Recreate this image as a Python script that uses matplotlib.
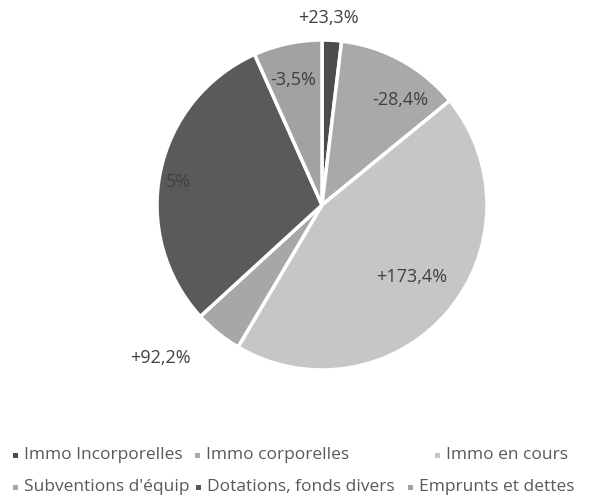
import matplotlib
matplotlib.use("Agg")
import matplotlib.pyplot as plt
from matplotlib.patches import Rectangle

categories = ["Immo Incorporelles", "Immo corporelles", "Immo en cours",
              "Subventions d'équip", "Dotations, fonds divers", "Emprunts et dettes"]
shares = [1.9, 12.2, 44.4, 4.7, 30.1, 6.7]
labels = ["+23,3%", "-28,4%", "+173,4%", "+92,2%", "5%", "-3,5%"]
legend_labels = ["Immo Incorporelles", "Immo corporelles", "Immo en cours",
                 "Subventions d'équip", "Dotations, fonds divers", "Emprunts et dettes"]
colors = ["#4c4c4c", "#a9a9a9", "#c6c6c6", "#a7a7a7", "#5a5a5a", "#a2a2a2"]

# label placement in axes-data units (layout only)
label_pos = [(0.036, 1.133), (0.473, 0.636), (0.545, -0.436),
             (-0.98, -0.927), (-0.873, 0.139), (-0.176, 0.758)]
# legend entry placement in pixels (marker x, row y) (layout only)
legend_pos = [(15, 455), (197, 455), (437, 455),
              (15, 487), (198, 487), (410, 487)]

plt.rcParams['font.family'] = ['Open Sans', 'DejaVu Sans']
W, H = 608, 499
fig = plt.figure(figsize=(W / 100, H / 100), dpi=100)
cx, cy, r = 322, 205, 165
ax = fig.add_axes([(cx - r) / W, 1 - (cy + r) / H, 2 * r / W, 2 * r / H])
wedges, _ = ax.pie(shares, colors=colors, startangle=90, counterclock=False,
                   wedgeprops=dict(edgecolor="white", linewidth=2.5))
ax.set_xlim(-1, 1)
ax.set_ylim(-1, 1)
ax.set_aspect('auto')
ax.axis('off')

for (x, y), t in zip(label_pos, labels):
    ax.text(x, y, t, ha='center', va='center', fontsize=13, color='#404040')

ms = 5
for (mx, my), lab, col in zip(legend_pos, legend_labels, colors):
    fig.patches.append(Rectangle(((mx - ms / 2) / W, 1 - (my + ms / 2) / H),
                                 ms / W, ms / H, transform=fig.transFigure,
                                 facecolor=col, edgecolor='none'))
    fig.text((mx + 9) / W, 1 - my / H, lab, ha='left', va='center',
             fontsize=12.5, color='#595959')

fig.savefig("out.png", dpi=100)
